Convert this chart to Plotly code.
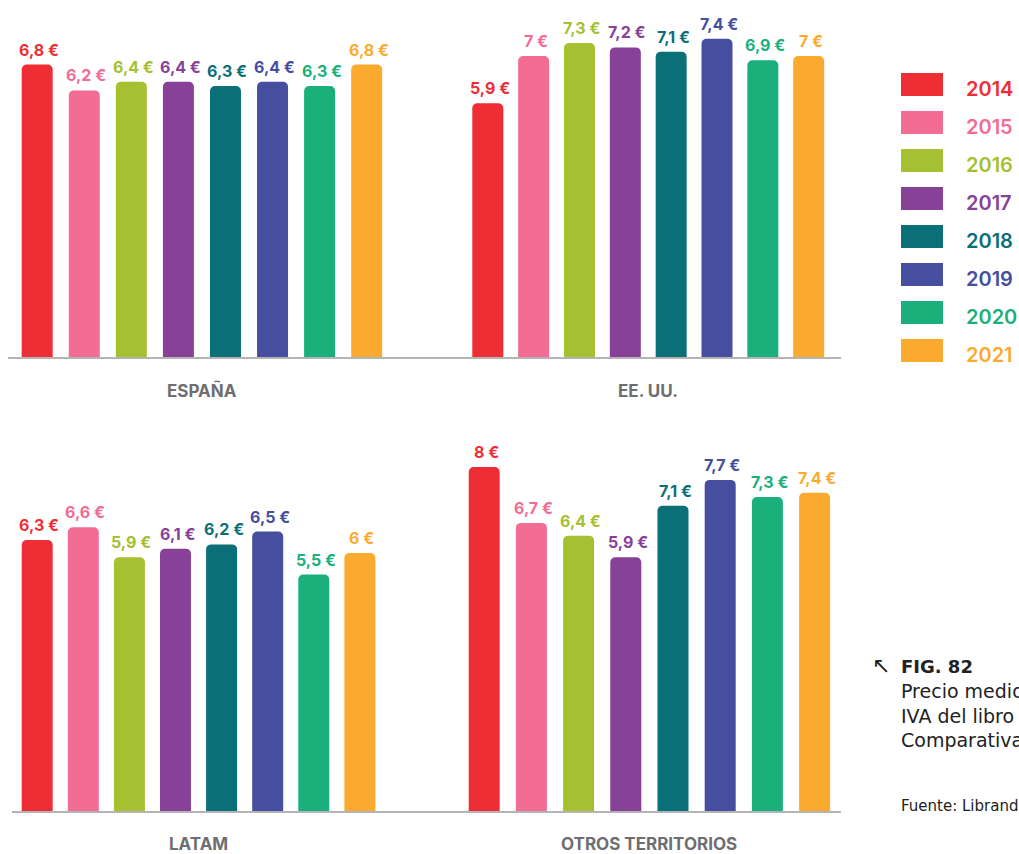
import plotly.graph_objects as go

# Precio medio (EUR) por territorio y año
years = ["2014", "2015", "2016", "2017", "2018", "2019", "2020", "2021"]
colors = ["#EE2E34", "#F26C94", "#A5C030", "#874197",
          "#0B6F78", "#454E9F", "#1BB07B", "#FAAB2F"]

regions = ["ESPAÑA", "EE. UU.", "LATAM", "OTROS TERRITORIOS"]
espana = [6.8, 6.2, 6.4, 6.4, 6.3, 6.4, 6.3, 6.8]
eeuu = [5.9, 7, 7.3, 7.2, 7.1, 7.4, 6.9, 7]
latam = [6.3, 6.6, 5.9, 6.1, 6.2, 6.5, 5.5, 6]
otros = [8, 6.7, 6.4, 5.9, 7.1, 7.7, 7.3, 7.4]
values = [espana, eeuu, latam, otros]

W, H = 1019, 854


def px(x):
    return x / W


def py(y):
    return 1 - y / H


# panel geometry in pixels: x domain, first bar centre, bar step, baseline, top, label row
panels = [
    dict(xd=(8, 424), c0=37.2, step=47.07, base=357, top=10, lab=391),
    dict(xd=(424, 841), c0=487.8, step=45.84, base=357, top=10, lab=391),
    dict(xd=(12, 424), c0=37.2, step=46.1, base=811, top=440, lab=844),
    dict(xd=(424, 841), c0=484.2, step=47.2, base=811, top=440, lab=844),
]
SCALE = 43.0   # px per euro
BAR_W = 31     # px

FONT = "Inter"
CAP_FONT = "DejaVu Sans"


def fmt(v):
    return f"{v:g}".replace(".", ",") + " €"


fig = go.Figure()
annotations = []
shapes = []

for i, (name, vals, p) in enumerate(zip(regions, values, panels)):
    n = "" if i == 0 else str(i + 1)
    fig.add_trace(go.Bar(
        x=years, y=vals,
        marker=dict(color=colors, cornerradius=5, line=dict(width=0)),
        width=BAR_W / p["step"],
        xaxis="x" + n, yaxis="y" + n,
        showlegend=False, hoverinfo="x+y",
    ))
    x0, x1 = p["xd"]
    r0 = (x0 - p["c0"]) / p["step"]
    r1 = (x1 - p["c0"]) / p["step"]
    fig.layout["xaxis" + n] = dict(
        domain=[px(x0), px(x1)], range=[r0, r1], type="category",
        showline=True, linecolor="#B4B4B4", linewidth=1.5,
        showticklabels=False, ticks="", showgrid=False, zeroline=False,
        anchor="y" + n,
    )
    fig.layout["yaxis" + n] = dict(
        domain=[py(p["base"]), py(p["top"])],
        range=[0, (p["base"] - p["top"]) / SCALE],
        visible=False, anchor="x" + n,
    )
    # value labels (category index as x, so "2014" is not read as a number)
    for k, (v, c) in enumerate(zip(vals, colors)):
        annotations.append(dict(
            x=k, y=v, xref="x" + n, yref="y" + n,
            text=fmt(v), showarrow=False, xanchor="center", yanchor="bottom",
            xshift=2, yshift=3,
            font=dict(family=FONT, size=16, color=c, weight=700),
        ))
    annotations.append(dict(
        x=3.5, y=py(p["lab"]), xref="x" + n, yref="paper",
        text=name, showarrow=False, xanchor="center", yanchor="middle",
        font=dict(family=FONT, size=17, color="#6E6E71", weight=700),
    ))

# legend
for k, (yr, c) in enumerate(zip(years, colors)):
    top = 73 + 38 * k
    shapes.append(dict(
        type="rect", xref="paper", yref="paper",
        x0=px(901), x1=px(943), y0=py(top + 23), y1=py(top),
        fillcolor=c, line=dict(width=0),
    ))
    annotations.append(dict(
        x=px(964), y=py(top + 16), xref="paper", yref="paper",
        text=yr, showarrow=False, xanchor="left", yanchor="middle",
        font=dict(family=FONT, size=20, color=c, weight=600),
    ))

# figure caption (cut by the right edge, as in the source)
annotations.append(dict(
    x=px(892), y=py(665), xref="paper", yref="paper", text="↖",
    showarrow=False, xanchor="right", yanchor="middle",
    font=dict(family=CAP_FONT, size=22, color="#222222"),
))
annotations.append(dict(
    x=px(899), y=py(666), xref="paper", yref="paper", text="<b>FIG. 82</b>",
    showarrow=False, xanchor="left", yanchor="middle",
    font=dict(family=CAP_FONT, size=18, color="#222222"),
))
caption = ["Precio medio sin", "IVA del libro electrónico.", "Comparativa por territorio."]
for j, line in enumerate(caption):
    annotations.append(dict(
        x=px(899), y=py(691 + 24.5 * j), xref="paper", yref="paper", text=line,
        showarrow=False, xanchor="left", yanchor="middle",
        font=dict(family=CAP_FONT, size=19, color="#222222"),
    ))
annotations.append(dict(
    x=px(899), y=py(806), xref="paper", yref="paper", text="Fuente: Libranda",
    showarrow=False, xanchor="left", yanchor="middle",
    font=dict(family=CAP_FONT, size=15, color="#222222"),
))

fig.update_layout(
    width=W, height=H,
    margin=dict(l=0, r=0, t=0, b=0),
    paper_bgcolor="white", plot_bgcolor="white",
    annotations=annotations, shapes=shapes,
    font=dict(family=FONT),
)
fig.update_traces(cliponaxis=False)

fig.write_html("out.html", config={"displayModeBar": False},
               post_script="document.body.style.margin='0';")
